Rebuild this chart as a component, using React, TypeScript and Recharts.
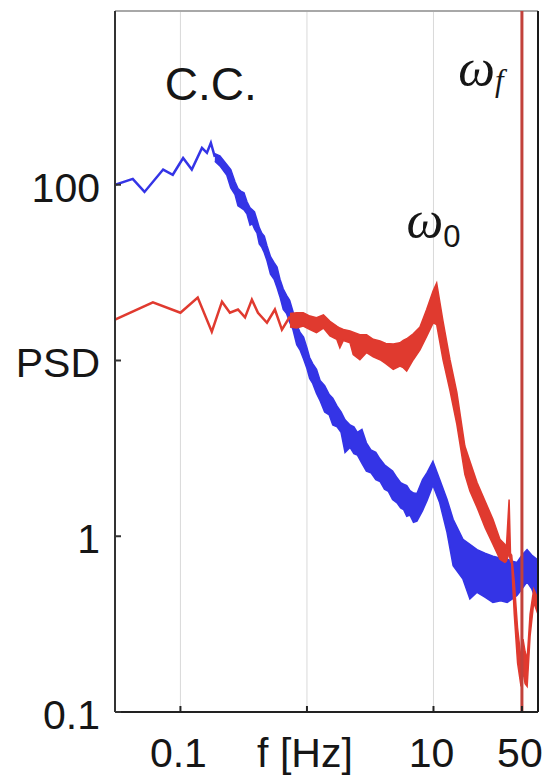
import {
  ComposedChart,
  Line,
  Area,
  XAxis,
  YAxis,
  CartesianGrid,
  ReferenceLine,
  ReferenceDot,
} from "recharts";

// C.C. spectrum (blue): sparse low-frequency part
const ccFreq = [0.0304, 0.042, 0.052, 0.073, 0.087, 0.105, 0.123, 0.148, 0.162, 0.174, 0.187];
const ccPsd = [100, 108, 91, 122, 114, 142, 122, 162, 152, 173, 144];

// C.C. spectrum (blue): dense noisy part, lower / upper envelope
const ccBandFreq = [
  0.187, 0.205, 0.233, 0.25, 0.27, 0.285, 0.3, 0.318, 0.336, 0.355, 0.37, 0.385, 0.403, 0.42,
  0.44, 0.46, 0.483, 0.515, 0.55, 0.58, 0.612, 0.65, 0.69, 0.73, 0.775, 0.83, 0.88, 0.94, 1.0,
  1.05, 1.11, 1.19, 1.27, 1.38, 1.5, 1.6, 1.73, 1.86, 2.0, 2.19, 2.35, 2.5, 2.72, 2.95, 3.2, 3.5,
  3.78, 4.1, 4.4, 4.75, 5.15, 5.5, 5.8, 6.15, 6.52, 6.95, 7.4, 8.2, 8.9, 9.9, 11.2, 12.8, 14.3,
  17.1, 19.4, 22.1, 25.5, 29.5, 34, 38.2, 42, 45.7, 50, 54.9, 60, 65.7, 67,
];
const ccBandLow = [
  136, 128, 113, 96, 88, 76, 74, 72, 68, 59, 60, 56, 53, 46, 44, 41, 37, 31, 29, 26, 23, 19.5,
  18.5, 16.5, 15, 12.3, 11.5, 10.2, 9.0, 7.9, 7.4, 6.5, 5.9, 5.1, 4.9, 4.3, 4.2, 3.9, 3.0, 3.2,
  2.95, 2.9, 2.6, 2.35, 2.3, 2.1, 2.05, 1.85, 1.8, 1.62, 1.55, 1.45, 1.42, 1.3, 1.32, 1.2, 1.22,
  1.4, 1.6, 1.95, 1.55, 1.05, 0.68, 0.57, 0.44, 0.48, 0.45, 0.42, 0.43, 0.42, 0.44, 0.46, 0.5,
  0.55, 0.5, 0.42, 0.43,
];
const ccBandHigh = [
  150, 146, 130, 122, 104, 95, 92, 90, 80, 74, 72, 70, 63, 57, 53, 51, 45, 39, 36, 34, 29, 25.5,
  23.5, 22, 19, 16, 14.5, 13.6, 11.8, 10.4, 9.6, 8.9, 7.7, 7.2, 6.4, 6.1, 5.5, 5.1, 4.6, 4.3, 4.2,
  3.9, 4.05, 3.4, 3.1, 3.0, 2.75, 2.55, 2.45, 2.35, 2.15, 2.02, 1.98, 1.94, 1.82, 1.76, 1.75, 2.1,
  2.3, 2.67, 2.1, 1.62, 1.25, 0.96, 0.9, 0.84, 0.8, 0.77, 0.75, 0.74, 0.72, 0.71, 0.78, 0.84,
  0.78, 0.74, 0.72,
];

// driven spectrum (red): sparse low-frequency part
const drivenFreq = [0.0304, 0.0606, 0.1, 0.137, 0.177, 0.213, 0.246, 0.285, 0.324, 0.367, 0.41, 0.483, 0.558, 0.634, 0.734];
const drivenPsd = [17.1, 21.4, 18.7, 22.8, 14.6, 21.6, 18.7, 19.5, 17.6, 22.2, 18.7, 16.4, 19.5, 15.0, 17.8];

// driven spectrum (red): dense noisy part, lower / upper envelope
const drivenBandFreq = [
  0.734, 0.829, 0.935, 1.056, 1.19, 1.35, 1.52, 1.72, 1.82, 1.94, 2.19, 2.32, 2.62, 2.96, 3.34,
  3.78, 4.2, 4.81, 5.43, 5.77, 6.14, 6.92, 7.82, 8.83, 9.96, 10.6, 11.9, 13.5, 15.3, 17.7, 19.4,
  22.1, 25.6, 29.5, 33.5, 36.7, 37.6, 39.6, 40.6, 41.5, 43.5, 46.2, 49.2, 51, 53, 55, 58, 62, 67,
];
const drivenBandLow = [
  15.5, 15.3, 15.7, 15.0, 14.4, 15.3, 13.8, 13.2, 11.8, 13.0, 12.6, 10.8, 10.1, 11.1, 10.5,
  10.1, 9.6, 8.9, 9.3, 9.1, 8.7, 10.1, 11.5, 13.7, 16.4, 16, 10.1, 6.75, 4.33, 2.25, 1.81, 1.46,
  1.12, 0.9, 0.74, 0.71, 0.72, 0.8, 0.72, 0.7, 0.36, 0.19, 0.14, 0.17, 0.145, 0.14, 0.27, 0.42,
  0.36,
];
const drivenBandHigh = [
  18.5, 18.7, 18.7, 17.9, 17.5, 18.2, 16.7, 15.7, 15.3, 15.0, 14.7, 14.5, 14.0, 14.0, 13.2,
  12.9, 12.5, 12.4, 12.6, 13.0, 13.3, 14.2, 15.5, 19.5, 25, 27.6, 16.7, 10.1, 6.58, 3.26, 2.67,
  2.02, 1.58, 1.25, 0.96, 0.9, 0.84, 1.62, 0.8, 0.78, 0.55, 0.3, 0.2, 0.26, 0.22, 0.2, 0.36, 0.5,
  0.44,
];

const forcingFreq = 50;

const xDomain = [0.0304, 67];
const yDomain = [0.1, 974];
const xTicks = [0.1, 1, 10, 50];
const xTickLabels = ["0.1", "f [Hz]", "10", "50"];
const yTicks = [0.1, 1, 10, 100];
const yTickLabels = ["0.1", "1", "PSD", "100"];

const BLUE = "#3434e6";
const RED = "#e03a2f";
const SANS = "'Liberation Sans', Arial, sans-serif";
const SERIF = "'Liberation Serif', 'Times New Roman', serif";

const ccLine = ccFreq.map((f, i) => ({ f, psd: ccPsd[i] }));
const ccBand = ccBandFreq.map((f, i) => ({ f, range: [ccBandLow[i], ccBandHigh[i]] }));
const drivenLine = drivenFreq.map((f, i) => ({ f, psd: drivenPsd[i] }));
const drivenBand = drivenBandFreq.map((f, i) => ({
  f,
  range: [drivenBandLow[i], drivenBandHigh[i]],
}));

function XTick(props: any) {
  const { x, y, payload } = props;
  const label = xTickLabels[xTicks.indexOf(payload.value)];
  return (
    <g>
      <line x1={x} x2={x} y1={y} y2={y - 6} stroke="#222" strokeWidth={2} />
      <text x={x - 2} y={y + 55} textAnchor="middle" fontSize={41} fill="#161616" fontFamily={SANS}>
        {label}
      </text>
    </g>
  );
}

function YTick(props: any) {
  const { x, y, payload } = props;
  const label = yTickLabels[yTicks.indexOf(payload.value)];
  return (
    <g>
      <line x1={x} x2={x + 6} y1={y} y2={y} stroke="#333" strokeWidth={2} />
      <text x={x - 15} y={y + 17} textAnchor="end" fontSize={41} fill="#161616" fontFamily={SANS}>
        {label}
      </text>
    </g>
  );
}

export default function App() {
  return (
    <div style={{ position: "absolute", left: 0, top: 0, background: "#fff" }}>
      <ComposedChart width={549} height={775} margin={{ top: 11, right: 11, bottom: 0, left: 0 }}>
        <CartesianGrid horizontal={false} stroke="#d9d9d9" strokeWidth={1} />
        <XAxis
          dataKey="f"
          type="number"
          scale="log"
          domain={xDomain}
          allowDataOverflow
          ticks={xTicks}
          tick={<XTick />}
          tickLine={false}
          tickSize={0}
          tickMargin={0}
          height={63}
          axisLine={{ stroke: "#222", strokeWidth: 2 }}
        />
        <YAxis
          type="number"
          scale="log"
          domain={yDomain}
          allowDataOverflow
          ticks={yTicks}
          tick={<YTick />}
          tickLine={false}
          tickSize={0}
          tickMargin={0}
          width={115}
          axisLine={{ stroke: "#333", strokeWidth: 2 }}
        />

        {/* frame: top edge grey, right edge black */}
        <ReferenceLine y={yDomain[1]} stroke="#a8a8a8" strokeWidth={2} />
        <ReferenceLine x={xDomain[1]} stroke="#1a1a1a" strokeWidth={2} />

        {/* C.C. spectrum */}
        <Line
          data={ccLine}
          dataKey="psd"
          type="linear"
          stroke={BLUE}
          strokeWidth={2.5}
          dot={false}
          activeDot={false}
          isAnimationActive={false}
        />
        <Area
          data={ccBand}
          dataKey="range"
          type="linear"
          stroke={BLUE}
          strokeWidth={1.5}
          fill={BLUE}
          fillOpacity={1}
          dot={false}
          activeDot={false}
          isAnimationActive={false}
        />

        {/* driven spectrum */}
        <Line
          data={drivenLine}
          dataKey="psd"
          type="linear"
          stroke={RED}
          strokeWidth={2.5}
          dot={false}
          activeDot={false}
          isAnimationActive={false}
        />
        <Area
          data={drivenBand}
          dataKey="range"
          type="linear"
          stroke={RED}
          strokeWidth={1.5}
          fill={RED}
          fillOpacity={1}
          dot={false}
          activeDot={false}
          isAnimationActive={false}
        />

        {/* forcing frequency */}
        <ReferenceLine x={forcingFreq} stroke="#c2413b" strokeWidth={3} />

        {/* annotations */}
        <ReferenceDot
          x={0.174}
          y={304}
          r={0}
          shape={(p: any) => (
            <text x={p.cx} y={p.cy} textAnchor="middle" fontSize={46} fill="#161616" fontFamily={SANS}>
              C.C.
            </text>
          )}
        />
        <ReferenceDot
          x={10}
          y={50.6}
          r={0}
          shape={(p: any) => (
            <text x={p.cx} y={p.cy} textAnchor="middle" fill="#161616">
              <tspan fontSize={52} fontStyle="italic" fontFamily={SERIF}>
                ω
              </tspan>
              <tspan fontSize={31} dy={10} fontFamily={SANS}>
                0
              </tspan>
            </text>
          )}
        />
        <ReferenceDot
          x={23.7}
          y={370}
          r={0}
          shape={(p: any) => (
            <text x={p.cx} y={p.cy} textAnchor="middle" fill="#161616">
              <tspan fontSize={52} fontStyle="italic" fontFamily={SERIF}>
                ω
              </tspan>
              <tspan fontSize={31} dy={6} fontStyle="italic" fontFamily={SERIF}>
                f
              </tspan>
            </text>
          )}
        />
      </ComposedChart>
    </div>
  );
}
